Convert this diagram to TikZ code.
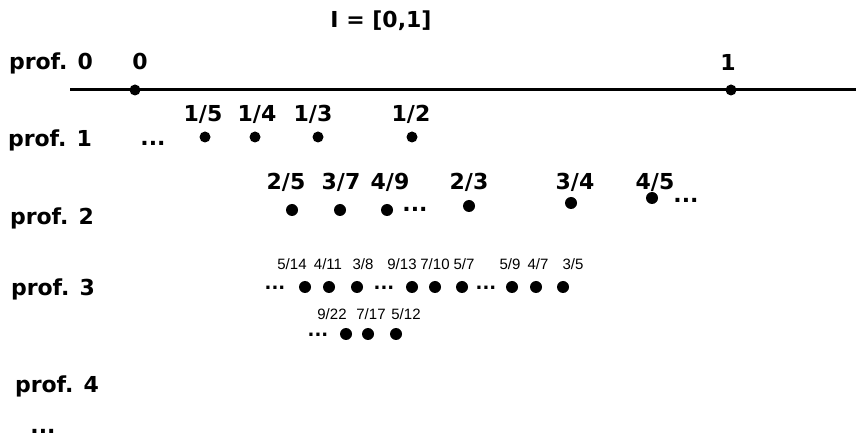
\documentclass[tikz,border=0pt]{standalone}
\usepackage{fontspec}
\setmainfont{DejaVu Sans}
\newfontfamily\labfont{Liberation Sans}
\begin{document}
\begin{tikzpicture}[x=1bp,y=-1bp,
  big/.style={anchor=base,inner sep=0pt,font=\bfseries\fontsize{22bp}{26bp}\selectfont},
  small/.style={anchor=base,inner sep=0pt,font=\labfont\fontsize{15bp}{18bp}\selectfont},
  sell/.style={anchor=base,inner sep=0pt,font=\bfseries\fontsize{18bp}{21bp}\selectfont},
  pt/.style={circle,fill=black,inner sep=0pt,minimum size=12bp},
  ptsm/.style={circle,fill=black,inner sep=0pt,minimum size=11bp}]
\useasboundingbox (0,0) rectangle (856,438);
% title
\node[big] (title) at (381,28) {I = [0,1]};
% depth 0
\node[big] (prof0) at (51,70) {prof. 0};
\node[big] (l0) at (140,70) {0};
\node[big] (l1) at (728,71) {1};
\coordinate (lineL) at (70,90);
\coordinate (lineR) at (856,90);
\draw[line width=3bp] (lineL) -- (lineR);
\node[ptsm] (d0) at (135,90) {};
\node[ptsm] (d1) at (731,90) {};
% depth 1
\node[big] (prof1) at (50,147) {prof. 1};
\node[big] (e1) at (153,146) {...};
\node[big] (l15) at (203,122) {1/5}; \node[ptsm] (d15) at (205,137) {};
\node[big] (l14) at (257,122) {1/4}; \node[ptsm] (d14) at (255,137) {};
\node[big] (l13) at (313,122) {1/3}; \node[ptsm] (d13) at (318,137) {};
\node[big] (l12) at (411,122) {1/2}; \node[ptsm] (d12) at (412,137) {};
% depth 2
\node[big] (prof2) at (52,225) {prof. 2};
\node[big] (l25) at (286,190) {2/5}; \node[pt] (d25) at (292,210) {};
\node[big] (l37) at (341,190) {3/7}; \node[pt] (d37) at (340,210) {};
\node[big] (l49) at (390,190) {4/9}; \node[pt] (d49) at (387,210) {};
\node[big] (e2a) at (415,212) {...};
\node[big] (l23) at (469,190) {2/3}; \node[pt] (d23) at (469,206) {};
\node[big] (l34) at (575,190) {3/4}; \node[pt] (d34) at (571,203) {};
\node[big] (l45) at (655,190) {4/5}; \node[pt] (d45) at (652,198) {};
\node[big] (e2b) at (686,203) {...};
% depth 3
\node[big] (prof3) at (53,296) {prof. 3};
\node[small] (l514) at (292,270) {5/14};
\node[small] (l411) at (328,270) {4/11};
\node[small] (l38) at (363,270) {3/8};
\node[small] (l913) at (402,270) {9/13};
\node[small] (l710) at (435,270) {7/10};
\node[small] (l57) at (464,270) {5/7};
\node[small] (l59) at (510,270) {5/9};
\node[small] (l47) at (538,270) {4/7};
\node[small] (l35) at (573,270) {3/5};
\node[sell] (e3a) at (275,290) {...};
\node[pt] (d514) at (305,287) {};
\node[pt] (d411) at (329,287) {};
\node[pt] (d38) at (357,287) {};
\node[sell] (e3b) at (384,290) {...};
\node[pt] (d913) at (412,287) {};
\node[pt] (d710) at (435,287) {};
\node[pt] (d57) at (462,287) {};
\node[sell] (e3c) at (486,290) {...};
\node[pt] (d59) at (512,287) {};
\node[pt] (d47) at (536,287) {};
\node[pt] (d35) at (563,287) {};
% second line of depth 3
\node[small] (l922) at (332,320) {9/22};
\node[small] (l717) at (371,320) {7/17};
\node[small] (l512) at (406,320) {5/12};
\node[sell] (e3d) at (318,337) {...};
\node[pt] (d922) at (346,334) {};
\node[pt] (d717) at (368,334) {};
\node[pt] (d512) at (396,334) {};
% depth 4
\node[big] (prof4) at (57,392) {prof. 4};
\node[big] (e4) at (43,433) {...};
\end{tikzpicture}
\end{document}
